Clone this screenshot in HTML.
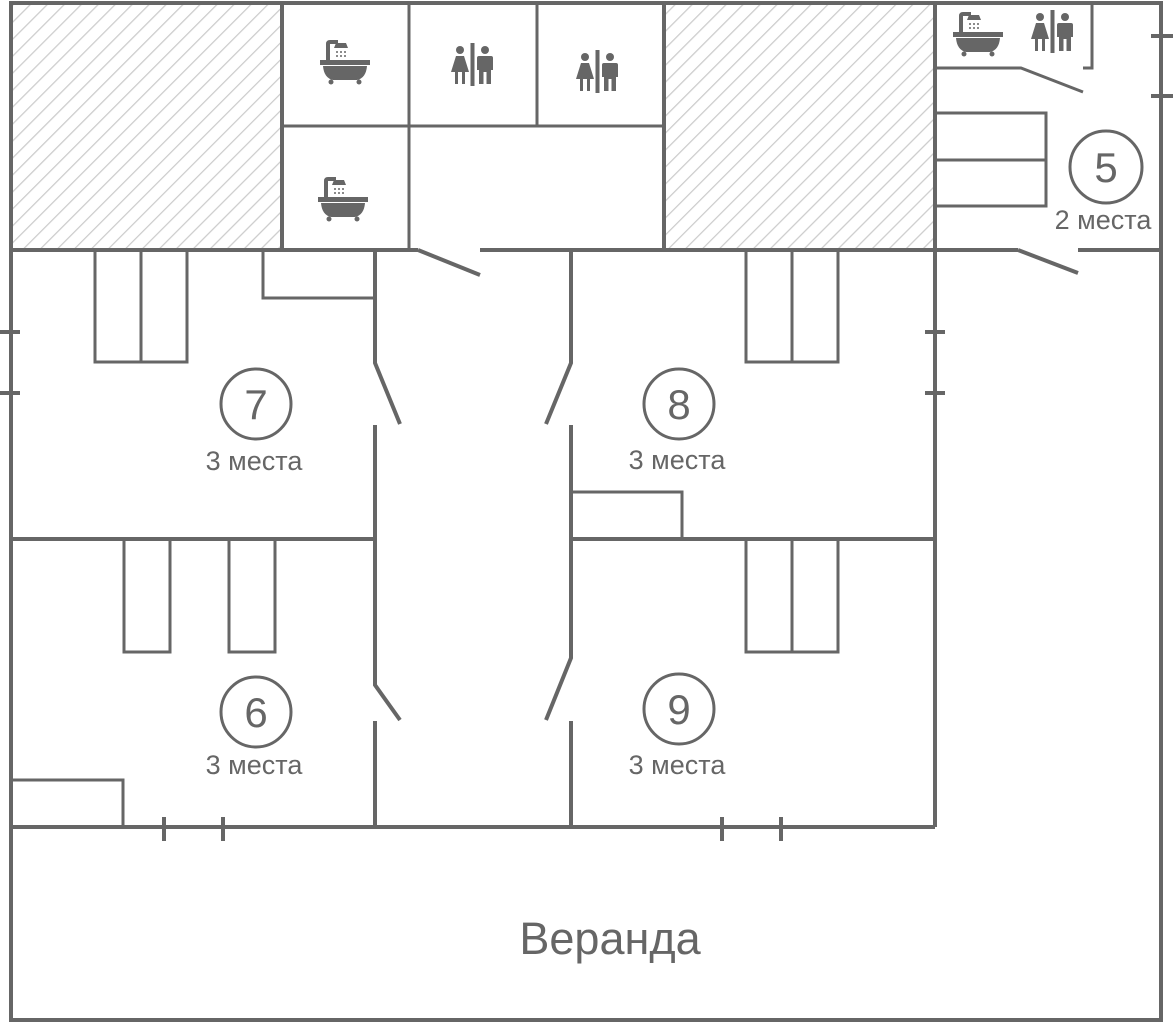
<!DOCTYPE html>
<html><head><meta charset="utf-8"><style>
html,body{margin:0;padding:0;background:#fff}
svg{display:block}
text{font-family:"Liberation Sans",sans-serif;fill:#666}
</style></head><body>
<svg width="1173" height="1023" viewBox="0 0 1173 1023" xmlns="http://www.w3.org/2000/svg">
<defs>
<pattern id="h" patternUnits="userSpaceOnUse" width="12" height="12" patternTransform="rotate(45)">
<rect width="12" height="12" fill="#fff"/><line x1="0" y1="0" x2="0" y2="12" stroke="#ccc" stroke-width="2.5"/>
</pattern>
<g id="bath" fill="#666">
<rect x="-25" y="-2" width="50" height="5"/>
<path d="M-22 4 H22 Q21 16 12 18 H-12 Q-21 16 -22 4Z"/>
<circle cx="-14" cy="20" r="2.5"/><circle cx="14" cy="20" r="2.5"/>
<path d="M-19 -2 V-18 Q-19 -22 -15 -22 H-7 V-18 H-15 V-2Z"/>
<path d="M-9 -19 H1 L3 -14 H-11Z"/>
<circle cx="-8" cy="-10" r="1"/><circle cx="-4" cy="-10" r="1"/><circle cx="0" cy="-10" r="1"/>
<circle cx="-8" cy="-6" r="1"/><circle cx="-4" cy="-6" r="1"/><circle cx="0" cy="-6" r="1"/>
</g>
<g id="wc" fill="#666">
<rect x="-1.5" y="-21" width="4" height="43"/>
<circle cx="-12" cy="-14" r="4"/>
<path d="M-16 -8 H-8 L-3 8 H-7 V20 H-10 V8 H-14 V20 H-17 V8 H-21Z"/>
<circle cx="13" cy="-14" r="4"/>
<path d="M7 -8 H19 Q21 -8 21 -6 V6 H19 V20 H14.5 V8 H11.5 V20 H7 V6 H5 V-6 Q5 -8 7 -8Z"/>
</g>
</defs>
<rect x="11" y="3" width="271" height="247" fill="url(#h)"/>
<rect x="664" y="3" width="271" height="247" fill="url(#h)"/>
<g stroke="#666" fill="none" stroke-width="4">
<path d="M11 3 H1161 V1020 H11 Z"/>
<line x1="282" y1="3" x2="282" y2="250"/>
<line x1="664" y1="3" x2="664" y2="250"/>
<line x1="935" y1="3" x2="935" y2="827"/>
<line x1="11" y1="250" x2="418" y2="250"/>
<line x1="418" y1="250" x2="480" y2="275"/>
<line x1="480" y1="250" x2="1018" y2="250"/>
<line x1="1018" y1="250" x2="1078" y2="273"/>
<line x1="1078" y1="250" x2="1161" y2="250"/>
<line x1="11" y1="539" x2="375" y2="539"/>
<line x1="571" y1="539" x2="935" y2="539"/>
<line x1="11" y1="827" x2="935" y2="827"/>
<path d="M375 250 V363 L400 424 M375 425 V685 L400 720 M375 721 V827"/>
<path d="M571 250 V363 L546 424 M571 425 V658 L546 720 M571 721 V827"/>
<path d="M0 332 H20 M0 393 H20 M925 332 H945 M925 393 H945 M164 817 V841 M223 817 V841 M722 817 V841 M781 817 V841 M1151 36 H1173 M1151 96 H1173"/>
</g>
<g stroke="#666" fill="none" stroke-width="3">
<line x1="409" y1="3" x2="409" y2="250"/>
<line x1="537" y1="3" x2="537" y2="126"/>
<line x1="282" y1="126" x2="664" y2="126"/>
<path d="M1092 3 V68 H1083"/>
<path d="M935 68 H1021 L1083 92"/>
<rect x="935" y="113" width="111" height="93"/><line x1="935" y1="160" x2="1046" y2="160"/>
<rect x="95" y="250" width="92" height="112"/><line x1="141" y1="250" x2="141" y2="362"/>
<rect x="263" y="250" width="112" height="48"/>
<rect x="746" y="250" width="92" height="112"/><line x1="792" y1="250" x2="792" y2="362"/>
<rect x="571" y="492" width="111" height="47"/>
<rect x="124" y="539" width="46" height="113"/>
<rect x="229" y="539" width="46" height="113"/>
<rect x="11" y="780" width="112" height="47"/>
<rect x="746" y="539" width="92" height="113"/><line x1="792" y1="539" x2="792" y2="652"/>
<circle cx="256" cy="404" r="35"/>
<circle cx="679" cy="404" r="35"/>
<circle cx="256" cy="712" r="35"/>
<circle cx="679" cy="709" r="35"/>
<circle cx="1106" cy="167" r="36"/>
</g>
<use href="#bath" x="345" y="62"/>
<use href="#bath" x="343" y="199"/>
<use href="#bath" x="978" y="34"/>
<use href="#wc" x="472" y="64"/>
<use href="#wc" x="597" y="71"/>
<use href="#wc" x="1052" y="31"/>
<g text-anchor="middle">
<text x="256" y="419" font-size="42">7</text>
<text x="679" y="419" font-size="42">8</text>
<text x="256" y="727" font-size="42">6</text>
<text x="679" y="724" font-size="42">9</text>
<text x="1106" y="182" font-size="42">5</text>
<text x="254" y="470" font-size="27">3 места</text>
<text x="677" y="469" font-size="27">3 места</text>
<text x="254" y="774" font-size="27">3 места</text>
<text x="677" y="774" font-size="27">3 места</text>
<text x="1103" y="229" font-size="27">2 места</text>
<text x="610" y="954" font-size="45">Веранда</text>
</g>
</svg>
</body></html>
